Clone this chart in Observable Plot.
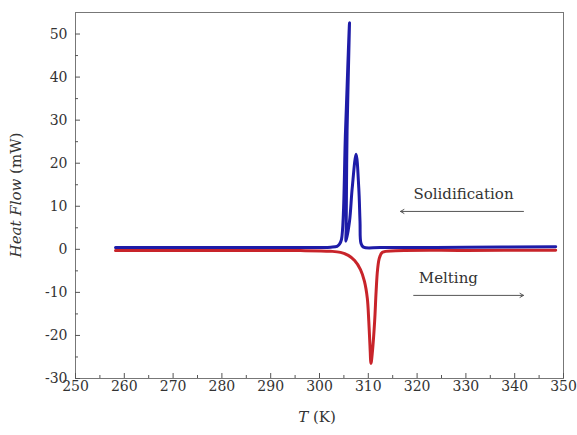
<!DOCTYPE html>
<html>
<head>
<meta charset="utf-8">
<script src="https://cdn.jsdelivr.net/npm/d3@7"></script>
<script src="https://cdn.jsdelivr.net/npm/@observablehq/plot@0.6"></script>
<style>
  html, body { margin: 0; padding: 0; background: #fff; }
  #chart { width: 577px; height: 435px; }
</style>
</head>
<body>
<div id="chart"></div>
<script>
// Solidification (cooling) curve, in drawing order
const solT = [258.2, 280, 296, 302.3, 303.6, 304.1, 304.51, 305.33, 306.15, 305.65, 305.47, 305.43, 306.15, 306.7, 307.5, 308.05, 308.3, 308.5, 309.0, 312.5, 330, 348.4];
const solH = [0.4, 0.4, 0.4, 0.5, 0.7, 1.2, 2.3, 27.4, 52.6, 27.4, 5.3, 1.9, 6.5, 14.2, 22.1, 14.2, 6.5, 1.4, 0.5, 0.4, 0.5, 0.6];

// Melting (heating) curve
const meltT = [258.2, 280, 296.1, 302.25, 304.3, 305.9, 307.2, 308.4, 309.2, 309.8, 310.1, 310.35, 310.55, 310.85, 311.3, 311.6, 311.9, 312.3, 312.9, 315.6, 330, 348.4];
const meltH = [-0.3, -0.3, -0.3, -0.45, -0.7, -1.4, -2.6, -4.7, -7.4, -11.4, -16.7, -22.6, -26.5, -23.7, -16.7, -9.8, -4.7, -1.9, -0.7, -0.35, -0.25, -0.2];

// Axis ticks
const xTicks = [250, 260, 270, 280, 290, 300, 310, 320, 330, 340, 350];
const xMinor = [255, 265, 275, 285, 295, 305, 315, 325, 335, 345];
const yTicks = [-30, -20, -10, 0, 10, 20, 30, 40, 50];
const yMinor = [-25, -15, -5, 5, 15, 25, 35, 45];

// Annotations
const labelText = ["Solidification", "Melting"];
const labelT = [329.5, 326.4];
const labelH = [12.8, -6.7];
const arrowT1 = [341.8, 319.3];
const arrowT2 = [316.6, 341.8];
const arrowH = [8.8, -10.7];

const sol = solT.map((t, i) => ({T: t, H: solH[i]}));
const melt = meltT.map((t, i) => ({T: t, H: meltH[i]}));
const labels = labelText.map((s, i) => ({s, T: labelT[i], H: labelH[i]}));
const arrows = arrowT1.map((t, i) => ({T1: t, T2: arrowT2[i], H: arrowH[i]}));

const fmt = d => String(d);

const chart = Plot.plot({
  width: 577,
  height: 435,
  marginLeft: 75,
  marginRight: 14,
  marginTop: 12,
  marginBottom: 57,
  x: {domain: [250, 350]},
  y: {domain: [-30, 55]},
  style: {fontFamily: "DejaVu Serif", fontSize: "14px", color: "#333", background: "white"},
  marks: [
    Plot.line(melt, {x: "T", y: "H", stroke: "#c8242a", strokeWidth: 3, curve: "catmull-rom", strokeLinecap: "round"}),
    Plot.line(sol, {x: "T", y: "H", stroke: "#1e1ca8", strokeWidth: 3, curve: "catmull-rom", strokeLinecap: "round", strokeLinejoin: "round"}),
    Plot.frame({stroke: "#777"}),
    Plot.axisX(xTicks, {tickSize: -5, tickPadding: 8, label: null, stroke: "#555", fill: "#333", tickFormat: fmt}),
    Plot.axisX(xMinor, {tickSize: -3, fill: "none", label: null, stroke: "#555"}),
    Plot.axisY(yTicks, {tickSize: -5, tickPadding: 13, label: null, stroke: "#555", fill: "#333", tickFormat: fmt}),
    Plot.axisY(yMinor, {tickSize: -3, fill: "none", label: null, stroke: "#555"}),
    Plot.text(labels, {x: "T", y: "H", text: "s", fontSize: 15, fill: "#333"}),
    Plot.arrow(arrows, {x1: "T1", x2: "T2", y1: "H", y2: "H", stroke: "#555", strokeWidth: 1, headLength: 6})
  ]
});

const svg = d3.select(chart);
const yl = svg.append("text")
  .attr("transform", "translate(17,195) rotate(-90)")
  .attr("text-anchor", "middle")
  .attr("dominant-baseline", "middle")
  .attr("font-family", "DejaVu Serif")
  .attr("font-size", 15)
  .attr("fill", "#333");
yl.append("tspan").attr("font-style", "italic").text("Heat Flow");
yl.append("tspan").text(" (mW)");

const xl = svg.append("text")
  .attr("x", 317)
  .attr("y", 418)
  .attr("text-anchor", "middle")
  .attr("dominant-baseline", "middle")
  .attr("font-family", "DejaVu Serif")
  .attr("font-size", 15)
  .attr("fill", "#333");
xl.append("tspan").attr("font-style", "italic").text("T");
xl.append("tspan").text(" (K)");

document.getElementById("chart").appendChild(chart);
</script>
</body>
</html>
